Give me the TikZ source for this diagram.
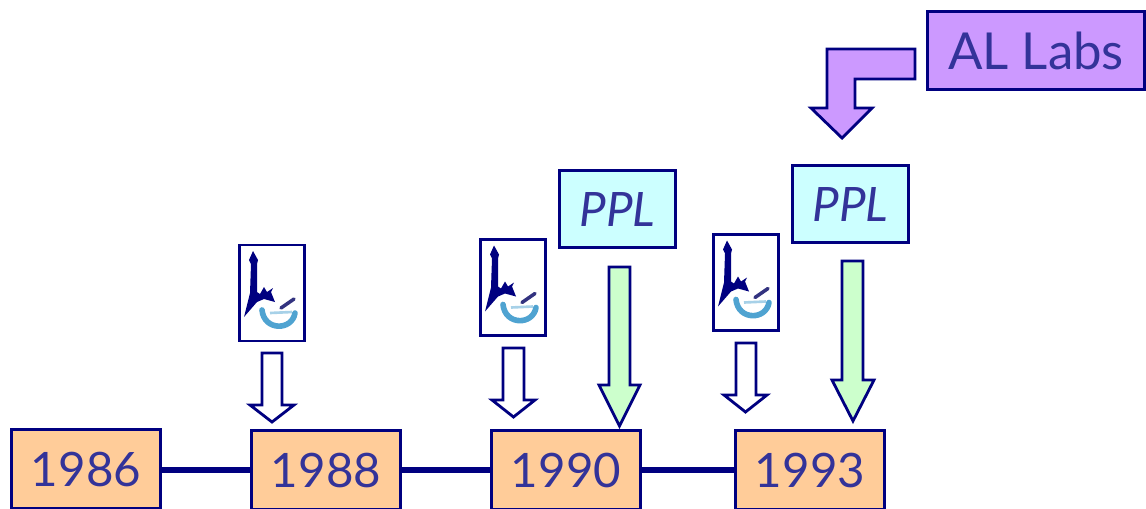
\documentclass[tikz,border=0pt]{standalone}
\usepackage{fontspec}
\usepackage{xcolor}
\setmainfont{Lato}
\usetikzlibrary{positioning,calc}
\definecolor{navyline}{HTML}{000080}
\definecolor{labelblue}{HTML}{333399}
\definecolor{yearfill}{HTML}{FFCC99}
\definecolor{pplfill}{HTML}{CCFFFF}
\definecolor{labsfill}{HTML}{CC99FF}
\definecolor{greenfill}{HTML}{CCFFCC}
\definecolor{bowlblue}{HTML}{4FA3D1}
\newcommand{\yearfont}{\fontsize{27}{30}\selectfont}
\newcommand{\labsfont}{\fontsize{29}{32}\selectfont}
\newcommand{\logomark}[1]{
  \begin{scope}[shift={(#1)}]
    \fill[navyline] (-19,-42) -- (-23,-33) -- (-21,-29) -- (-22,0) -- (-28,24) -- (-15,9) -- (-8,6) -- (3,9) -- (-1,-1) -- (1,-5) -- (-5,-1) -- (-8,-6) -- (-12,1) -- (-15,-1) -- (-15,-29) -- (-14,-33) -- cycle;
    \draw[bowlblue,line width=3.2pt,line cap=round] (-10,17) .. controls (-8,38) and (20,38) .. (23,20);
    \draw[bowlblue!50,line width=1.5pt] (-2,20) -- (20,19);
    \draw[navyline!60!gray,line width=2pt,line cap=round] (9,15) -- (22,6);
  \end{scope}
}
\begin{document}
\begin{tikzpicture}[x=0.02cm,y=-0.02cm]
  \tikzset{box/.style={draw=navyline,line width=1.6pt,text=labelblue,inner sep=0pt,anchor=center}}
  \tikzset{year/.style={box,fill=yearfill,minimum width=2.98cm,minimum height=1.58cm,font=\yearfont}}
  \tikzset{ppl/.style={box,fill=pplfill,minimum width=2.32cm,minimum height=1.54cm,font=\yearfont\itshape}}
  \tikzset{logo/.style={box,fill=white,minimum width=1.3cm,minimum height=1.92cm}}
  \tikzset{link/.style={navyline,line width=2.9pt}}
  \tikzset{block/.style={draw=navyline,line width=1.6pt,line join=miter}}
  \useasboundingbox (0,0) rectangle (1146,508);
  \node[year] (y86) at (86,469) {1986};
  \node[year] (y88) at (326,470) {1988};
  \node[year] (y90) at (566,470) {1990};
  \node[year] (y93) at (810,470) {1993};
  \node[ppl] (pplA) at (617.5,209) {PPL};
  \node[ppl] (pplB) at (850.5,204) {PPL};
  \node[box,fill=labsfill,minimum width=4.34cm,minimum height=1.56cm,font=\labsfont] (labs) at (1036,50.5) {AL Labs};
  \node[logo] (logoA) at (272,293) {};
  \node[logo] (logoB) at (513,287.5) {};
  \node[logo] (logoC) at (746,282.5) {};
  \logomark{logoA.center}
  \logomark{logoB.center}
  \logomark{logoC.center}
  \draw[link] (y88.west -| y86.east)--(y88.west);
  \draw[link] (y88)--(y90);
  \draw[link] (y90)--(y93);
  % hollow arrows
  \draw[block,fill=white] (262,353) -- (282,353) -- (282,405) -- (294,405) -- (272,422) -- (250,405) -- (262,405) -- cycle;
  \draw[block,fill=white] (503,348) -- (524,348) -- (524,400) -- (535,400) -- (513.5,417) -- (492,400) -- (503,400) -- cycle;
  \draw[block,fill=white] (736,343) -- (756,343) -- (756,395) -- (767,395) -- (745.5,412) -- (724,395) -- (736,395) -- cycle;
  % green arrows
  \draw[block,fill=greenfill] (609,267) -- (630,267) -- (630,385) -- (640,385) -- (619.5,426) -- (599,385) -- (609,385) -- cycle;
  \draw[block,fill=greenfill] (842,261) -- (863,261) -- (863,380) -- (874,380) -- (853,421) -- (832,380) -- (842,380) -- cycle;
  % bent arrow
  \draw[block,fill=labsfill] (915,49) -- (827,49) -- (827,108) -- (811,108) -- (842,138) -- (872,108) -- (855,108) -- (855,79) -- (915,79) -- cycle;
\end{tikzpicture}
\end{document}
